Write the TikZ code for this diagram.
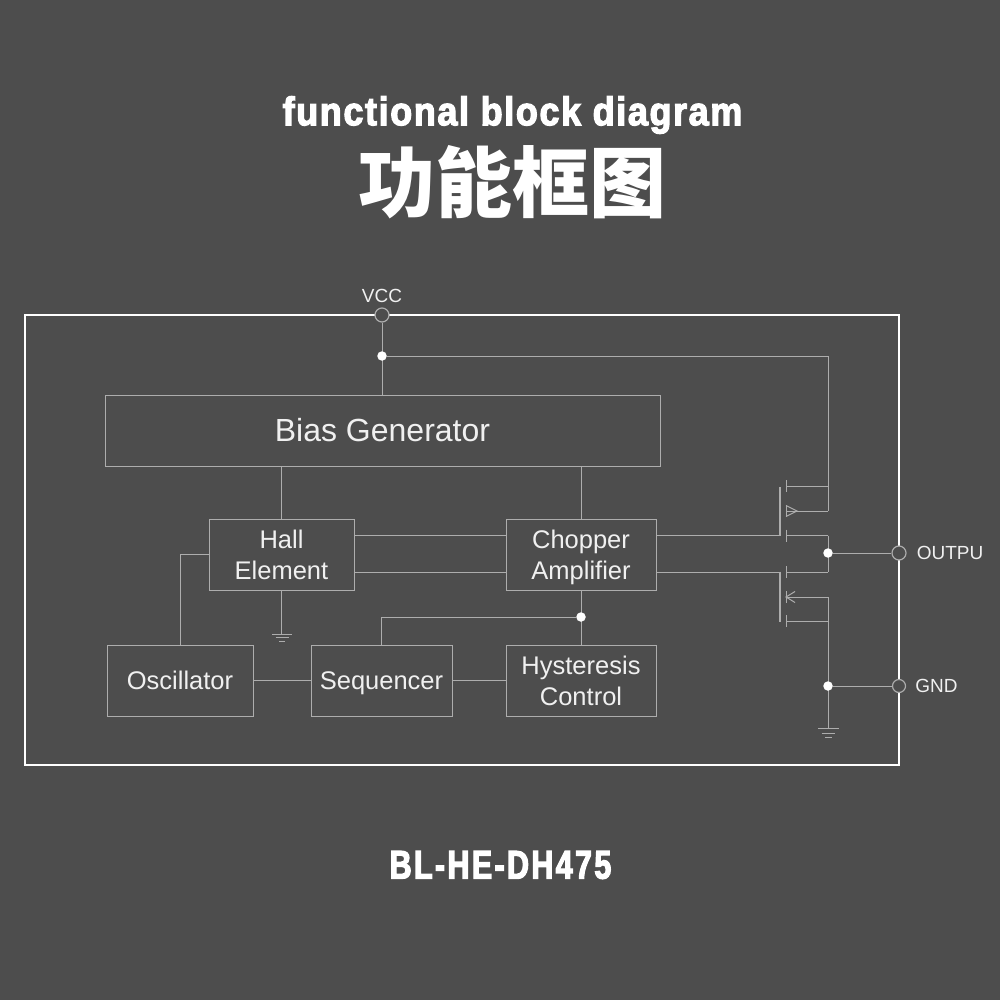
\documentclass[tikz,border=0pt]{standalone}
\usepackage{fontspec}
\setmainfont{Liberation Sans}
\newfontfamily\titlefont[FakeStretch=0.9,FakeBold=3,LetterSpace=4]{Liberation Sans}
\newfontfamily\partfont[FakeStretch=0.76,FakeBold=3,LetterSpace=6]{Liberation Sans}
\newfontfamily\cjkfont{Noto Sans CJK SC}
\usetikzlibrary{positioning,backgrounds}
\definecolor{panel}{HTML}{4D4D4D}
\definecolor{wirec}{HTML}{ADADAD}
\definecolor{labelc}{HTML}{F0F0F0}
\newcommand{\blockstrut}{\rule[-5.5pt]{0pt}{29.5pt}}

\begin{document}
\begin{tikzpicture}[
  x=1pt, y=-1pt,
  block/.style={rectangle, draw=wirec, line width=1pt, text=labelc, align=center,
                minimum height=71pt, font=\fontsize{25.5}{31}\selectfont, inner sep=0pt},
  wire/.style={draw=wirec, line width=1pt},
  gatebar/.style={draw=wirec, line width=1.7pt},
  outline/.style={draw=white, line width=2pt},
  dot/.style={circle, fill=white, minimum size=9.5pt, inner sep=0pt},
  pin/.style={circle, draw=wirec, line width=1.2pt, fill=panel, minimum size=14pt, inner sep=0pt},
  pinlabel/.style={text=labelc, font=\fontsize{19}{23}\selectfont, inner sep=0pt},
  heading/.style={text=white, inner sep=0pt},
]
  % titles
  \node[heading, font=\titlefont\bfseries\fontsize{40}{50}\selectfont] (title) at (512.5,115) {functional block diagram};
  \node[heading, font=\cjkfont\bfseries\fontsize{77}{80}\selectfont] (titlecn) at (512.5,182) {功能框图};
  \node[heading, font=\partfont\bfseries\fontsize{40}{50}\selectfont] (part) at (500.5,865) {BL-HE-DH475};

  % blocks
  \node[block, minimum width=555pt, font=\fontsize{32}{38}\selectfont] (bias) at (382.5,430.5) {Bias Generator};
  \node[block, minimum width=145pt] (hall) at (281.5,554.5) {\blockstrut Hall\\\blockstrut Element};
  \node[block, minimum width=150pt] (chopper) at (581,554.5) {\blockstrut Chopper\\\blockstrut Amplifier};
  \node[block, minimum width=146pt] (osc) at (180,680.5) {\blockstrut Oscillator};
  \node[block, minimum width=141pt] (seq) at (381.5,680.5) {\blockstrut Sequencer};
  \node[block, minimum width=150pt] (hyst) at (581,680.5) {\blockstrut Hysteresis\\\blockstrut Control};

  % pins
  \node[pin] (vcc) at (382,315) {};
  \node[pin] (output) at (899,553) {};
  \node[pin, minimum size=13pt] (gnd) at (899,686) {};
  \node[pinlabel, above=5pt of vcc] (vcclabel) {VCC};
  \node[pinlabel, right=10pt of output] (outputlabel) {OUTPU};
  \node[pinlabel, right=9pt of gnd] (gndlabel) {GND};

  % junctions
  \node[dot] (jtop) at (382,356) {};
  \node[dot] (jseq) at (581,617) {};
  \node[dot] (jout) at (828,553) {};
  \node[dot] (jgnd) at (828,686) {};

  % rails
  \coordinate (highsrc) at (828,511);
  \coordinate (highdrn) at (828,535.5);
  \coordinate (lowdrn) at (828,572);
  \coordinate (lowsrc) at (828,597);
  \coordinate (earth) at (828,728.5);
  \coordinate (hallearth) at (281.5,634);

  \begin{scope}[on background layer]
    \fill[panel] (0,0) rectangle (1000,1000);
    \draw[outline] (25,315) rectangle (899,765);

    \draw[wire] (vcc) -- (bias.north -| vcc);
    \draw[wire] (jtop) -| (highsrc);
    \draw[wire] (hall.north) -- (hall.north |- bias.south);
    \draw[wire] (chopper.north) -- (chopper.north |- bias.south);
    \draw[wire] (hall.east |- highdrn) -- (chopper.west |- highdrn);
    \draw[wire] (hall.east |- lowdrn) -- (chopper.west |- lowdrn);
    \draw[wire] (hall.south) -- (hallearth);
    \draw[wire] (osc.north) |- (hall.west);
    \draw[wire] (osc.east) -- (seq.west);
    \draw[wire] (seq.east) -- (hyst.west);
    \draw[wire] (chopper.south) -- (hyst.north);
    \draw[wire] (seq.north) |- (jseq);
    \draw[wire] (jout) -- (output);
    \draw[wire] (jgnd) -- (gnd);
    \draw[wire] (highdrn) -- (lowdrn);
    \draw[wire] (lowsrc) -- (earth);

    % output transistors
    \draw[wire] (chopper.east |- highdrn) -- (780,535.5);
    \draw[wire] (chopper.east |- lowdrn) -- (780,572);
    \draw[gatebar] (780,536) -- (780,487);
    \draw[gatebar] (780,571.5) -- (780,622);
    \foreach \y in {486,511,535.5,572,597,621}
      \draw[wire] (786,\y-6) -- (786,\y+6) (786,\y) -- (828,\y);
    \draw[wire] (786,505.5) -- (797,511) -- (786,516.5);
    \draw[wire] (795,591.5) -- (786,597) -- (795,602.5);

    % grounds
    \draw[wire] (272,634) -- (292,634) (275.5,637.5) -- (288.5,637.5) (279,641) -- (285,641);
    \draw[wire] (818,728.5) -- (839,728.5) (821.5,733) -- (835,733) (825,737) -- (832,737);
  \end{scope}
\end{tikzpicture}
\end{document}
